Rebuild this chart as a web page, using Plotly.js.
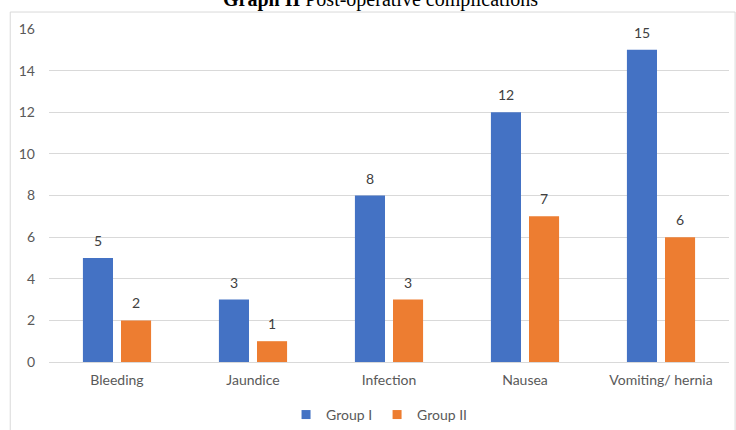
<!DOCTYPE html>
<html><head><meta charset="utf-8">
<script src="https://cdn.plot.ly/plotly-3.0.1.min.js"></script>
<style>html,body{margin:0;padding:0;background:#fff}#c{width:736px;height:430px}</style>
</head><body><div id="c"></div>
<script>
const categories = ["Bleeding", "Jaundice", "Infection", "Nausea", "Vomiting/ hernia"];
const groupI = [5, 3, 8, 12, 15];
const groupII = [2, 1, 3, 7, 6];
const yTicks = [0, 2, 4, 6, 8, 10, 12, 14, 16];
const colorI = "#4472C4";
const colorII = "#ED7D31";

const FAM = "Lato, 'Open Sans', sans-serif";
const traces = [
  {type: "bar", name: "Group I", x: categories, y: groupI, marker: {color: colorI}, showlegend: false},
  {type: "bar", name: "Group II", x: categories, y: groupII, marker: {color: colorII}, showlegend: false},
  {type: "scatter", mode: "markers", name: "Group I", x: [null], y: [null],
   marker: {symbol: "square", size: 9, color: colorI}},
  {type: "scatter", mode: "markers", name: "Group II", x: [null], y: [null],
   marker: {symbol: "square", size: 9, color: colorII}}
];
const valueLabels = [];
categories.forEach((c, i) => {
  valueLabels.push({x: c, y: groupI[i], xref: "x", yref: "y", xshift: -19, yshift: 7,
    yanchor: "bottom", showarrow: false, text: String(groupI[i]),
    font: {family: FAM, size: 14, color: "#404040"}});
  valueLabels.push({x: c, y: groupII[i], xref: "x", yref: "y", xshift: 19, yshift: 7,
    yanchor: "bottom", showarrow: false, text: String(groupII[i]),
    font: {family: FAM, size: 14, color: "#404040"}});
});
const layout = {
  width: 736, height: 430,
  margin: {l: 49, r: 7, t: 29, b: 68, autoexpand: false},
  paper_bgcolor: "#fff", plot_bgcolor: "#fff",
  barmode: "group", bargap: 0.44, bargroupgap: 0.21,
  font: {family: FAM, size: 14, color: "#595959"},
  xaxis: {showgrid: false, zeroline: false, showline: false, ticks: "", ticklabelstandoff: 8,
          automargin: false, tickfont: {size: 14, color: "#595959"}},
  yaxis: {range: [0, 16], tickvals: yTicks, showgrid: true, gridcolor: "#d9d9d9", gridwidth: 1,
          zeroline: true, zerolinecolor: "#d9d9d9", showline: false, ticks: "", automargin: false,
          tickfont: {size: 14, color: "#595959"}, ticklabelstandoff: 13},
  showlegend: true,
  legend: {orientation: "h", x: 0.515, xref: "container", xanchor: "center",
           y: 0.035, yref: "container", yanchor: "middle",
           font: {size: 14, color: "#595959"}, itemwidth: 30, traceorder: "normal",
           bgcolor: "rgba(0,0,0,0)"},
  shapes: [{type: "rect", xref: "paper", yref: "paper", x0: -0.057, x1: 1.009, y0: -0.3, y1: 1.051,
            line: {color: "#d9d9d9", width: 1}, fillcolor: "rgba(0,0,0,0)", layer: "below"}],
  annotations: valueLabels.concat([{xref: "paper", yref: "paper", x: 0.487, y: 1.09, xanchor: "center", yanchor: "middle",
                 showarrow: false, text: "<b>Graph II</b> Post-operative complications",
                 font: {family: "'Liberation Serif', serif", size: 20, color: "#000"}}])
};
Plotly.newPlot("c", traces, layout, {displayModeBar: false, staticPlot: true});
</script></body></html>
